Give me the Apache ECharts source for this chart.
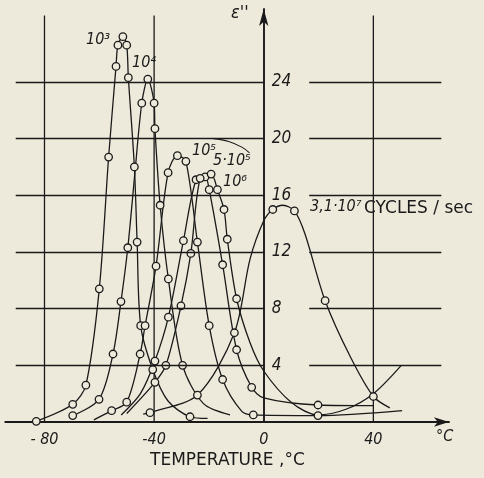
<!DOCTYPE html>
<html><head><meta charset="utf-8">
<script src="https://cdn.jsdelivr.net/npm/echarts@6/dist/echarts.min.js"></script>
<style>html,body{margin:0;padding:0;background:#eeeadb}#chart{width:484px;height:478px}</style>
</head><body><div id="chart"></div>
<script>
// Dielectric loss factor ε'' versus temperature, one curve per frequency.

const xTicks = [-80, -40, 0, 40];
const yTicks = [4, 8, 12, 16, 20, 24];
const freqLabels = ['10³', '10⁴', '10⁵', '5·10⁵', '10⁶', '3,1·10⁷'];

// measured points (drawn as circles), [temperature °C, ε'']
const meas1e3 = [[-83,0.05],[-69.7,1.25],[-64.9,2.6],[-60,9.4],[-56.6,18.7],[-53.9,25.1],[-53.2,26.6],[-51.4,27.2],[-50,26.6],[-49.4,24.3],[-47.2,18],[-46.2,12.7],[-44.9,6.8],[-40.5,3.7],[-26.9,0.37]];
const meas1e4 = [[-69.7,0.45],[-60.1,1.6],[-55,4.8],[-52.1,8.5],[-49.6,12.3],[-44.5,22.5],[-42.3,24.2],[-40,22.5],[-39.7,20.7],[-37.8,15.3],[-34.8,10.1],[-29.6,4.0]];
const meas1e5 = [[-55.5,0.8],[-50,1.4],[-45.1,4.8],[-43.3,6.8],[-39.3,11],[-34.9,17.6],[-31.5,18.8],[-28.4,18.4],[-24.2,12.7],[-19.9,6.8],[-15,3.0],[-3.8,0.5],[19.8,0.45]];
const meas5e5 = [[-39.7,4.3],[-34.8,7.4],[-29.3,12.8],[-24.7,17.1],[-21.4,17.3],[-19.9,16.4],[-15,11.1],[-9.9,5.1],[-4.4,2.45],[19.8,1.2]];
const meas1e6 = [[-39.7,2.8],[-35.7,4.0],[-30.2,8.2],[-26.6,11.9],[-23.2,17.2],[-19.2,17.5],[-16.9,16.4],[-14.5,15.0],[-13.3,12.9],[-9.9,8.7]];
const meas31e7 = [[-41.5,0.66],[-24.2,1.9],[-10.7,6.3],[3.3,15.0],[11.2,14.9],[22.4,8.56],[40,1.8]];

// further vertices of each drawn curve between and beyond the measurements
const trace1e3 = [[-35,1.5],[-20.5,0.25]];
const trace1e4 = [[-47,17.6],[-22,1.3],[-12.3,0.5]];
const trace1e5 = [[-62,0.15],[-8,0.75],[50.5,0.8]];
const trace5e5 = [[-52,0.5],[-45,2.0],[0,1.7],[40,1.15]];
const trace1e6 = [[-50,0.6],[-5,5.6],[0,3.6],[10,1.4],[19.8,0.5],[30,0.9],[40,2.0],[50.2,4.0]];
const trace31e7 = [[-44,0.55],[-5,11.5],[0,14.2],[7,15.3],[15,13.3],[31.6,4.6],[46,1.0]];

// short curved leader stroke beside the 10⁵ label
const leader = [[-18.4,20.0],[-12.8,19.8],[-8,19.4],[-5.2,19.0]];

const curves = [
  [meas1e3, trace1e3], [meas1e4, trace1e4], [meas1e5, trace1e5],
  [meas5e5, trace5e5], [meas1e6, trace1e6], [meas31e7, trace31e7]
];

const ink = '#1a1a1a';
const paper = '#eeeadb';
const italicFont = "'Liberation Sans Narrow','DejaVu Sans Condensed',sans-serif";
const plainFont = "'DejaVu Sans',sans-serif";

// horizontal rules, broken where the ε'' scale is lettered
const gridLines = [];
yTicks.forEach(v => {
  gridLines.push([{ coord: [-90.5, v] }, { coord: [0, v] }]);
  gridLines.push([{ coord: [16.6, v] }, { coord: [64.8, v] }]);
});

const series = [{
  type: 'line', data: [], z: 1, silent: true,
  markLine: {
    silent: true, symbol: 'none', label: { show: false },
    lineStyle: { color: ink, width: 1.3, type: 'solid' },
    emphasis: { disabled: true },
    data: gridLines
  }
}];

// vertical rules at the lettered temperatures
xTicks.filter(v => v !== 0).forEach(v => {
  series.push({
    type: 'line', data: [[v, 0], [v, 28.7]], z: 1, silent: true, showSymbol: false,
    lineStyle: { color: ink, width: 1.3 }
  });
});

curves.forEach(([meas, trace], i) => {
  const pts = meas.concat(trace).sort((a, b) => a[0] - b[0]);
  series.push({
    name: freqLabels[i], type: 'line', data: pts, z: 3,
    smooth: 0.3, showSymbol: false, silent: true,
    lineStyle: { color: ink, width: 1.3 }
  });
  series.push({
    type: 'scatter', data: meas, z: 4, silent: true,
    symbol: 'circle', symbolSize: 7.5,
    itemStyle: { color: paper, borderColor: ink, borderWidth: 1.3, opacity: 1 }
  });
});
series.push({
  type: 'line', data: leader, z: 3, smooth: 0.4, showSymbol: false, silent: true,
  lineStyle: { color: ink, width: 1.1 }
});

// ε'' scale lettered just right of the vertical axis
series.push({
  type: 'scatter', data: yTicks.map(v => [0, v]), z: 5, silent: true,
  symbolSize: 0, itemStyle: { opacity: 1 },
  label: {
    show: true, position: 'right', distance: 8, color: ink, fontSize: 17,
    fontStyle: 'italic', fontFamily: italicFont, formatter: p => String(p.value[1])
  }
});

const chart = echarts.init(document.getElementById('chart'), null, { renderer: 'canvas' });
chart.setOption({
  backgroundColor: paper,
  animation: false,
  grid: { left: 5.3, right: 35, top: 9, bottom: 56, containLabel: false },
  xAxis: {
    type: 'value', min: -94.3, max: 67.6,
    axisLine: { onZero: true, symbol: ['none', 'arrow'], symbolSize: [7, 15],
      lineStyle: { color: ink, width: 1.9 } },
    axisTick: { show: false },
    splitLine: { show: false },
    axisLabel: { customValues: xTicks, margin: 10, color: ink, fontSize: 16, fontStyle: 'italic',
      fontFamily: italicFont, formatter: v => (v < -50 ? '- ' + (-v) : String(v)) }
  },
  yAxis: {
    type: 'value', min: 0, max: 29.15,
    axisLine: { onZero: true, symbol: ['none', 'arrow'], symbolSize: [7, 17],
      lineStyle: { color: ink, width: 1.9 } },
    axisTick: { show: false },
    splitLine: { show: false },
    axisLabel: { show: false }
  },
  series: series,
  graphic: [
    { type: 'text', left: 231, top: 4, style: { text: "ε''", fill: ink, fontSize: 18, fontStyle: 'italic', fontFamily: italicFont } },
    { type: 'text', left: 436, top: 429, style: { text: '°C', fill: ink, fontSize: 16, fontStyle: 'italic', fontFamily: italicFont } },
    { type: 'text', left: 150, top: 452, style: { text: 'TEMPERATURE ,°C', fill: ink, fontSize: 17, fontFamily: plainFont } },
    { type: 'text', left: 86, top: 32, style: { text: freqLabels[0], fill: ink, fontSize: 16, fontStyle: 'italic', fontFamily: italicFont } },
    { type: 'text', left: 132, top: 55, style: { text: freqLabels[1], fill: ink, fontSize: 16, fontStyle: 'italic', fontFamily: italicFont } },
    { type: 'text', left: 192, top: 143, style: { text: freqLabels[2], fill: ink, fontSize: 16, fontStyle: 'italic', fontFamily: italicFont } },
    { type: 'text', left: 213, top: 153, style: { text: freqLabels[3], fill: ink, fontSize: 16, fontStyle: 'italic', fontFamily: italicFont } },
    { type: 'text', left: 223, top: 174, style: { text: freqLabels[4], fill: ink, fontSize: 16, fontStyle: 'italic', fontFamily: italicFont } },
    { type: 'text', left: 310, top: 199, style: { text: freqLabels[5], fill: ink, fontSize: 16, fontStyle: 'italic', fontFamily: italicFont } },
    { type: 'text', left: 364, top: 200, style: { text: 'CYCLES / sec', fill: ink, fontSize: 17, fontFamily: plainFont } }
  ]
});
</script>
</body></html>
